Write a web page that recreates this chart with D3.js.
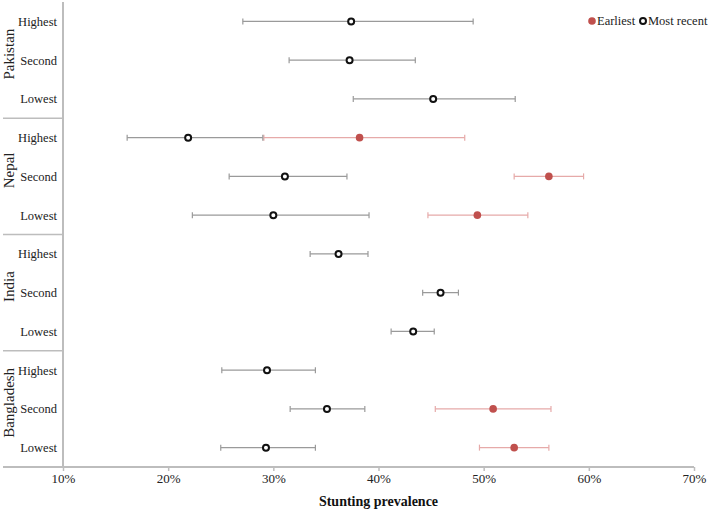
<!DOCTYPE html>
<html>
<head>
  <meta charset="utf-8">
  <script src="https://cdn.jsdelivr.net/npm/d3@7/dist/d3.min.js"></script>
  <style>
    body { margin: 0; background: #fff; }
  </style>
</head>
<body>
<script>

  // countries top to bottom, quintile rows within each
  var countries = ['Pakistan', 'Nepal', 'India', 'Bangladesh'];
  var quintiles = ['Highest', 'Second', 'Lowest'];

  // most recent survey: [estimate, lower, upper] (%)
  var recent = [
    [37.4, 27.1, 49.0], [37.25, 31.5, 43.5], [45.2, 37.6, 53.0],
    [21.9, 16.1, 29.0], [31.1, 25.8, 37.0], [30.0, 22.3, 39.1],
    [36.2, 33.5, 39.0], [45.9, 44.2, 47.6], [43.3, 41.2, 45.3],
    [29.4, 25.1, 34.0], [35.1, 31.6, 38.7], [29.3, 25.0, 34.0]
  ];

  // earliest survey, null where there is none
  var earliest = [
    null, null, null,
    [38.2, 29.1, 48.2], [56.2, 52.9, 59.5], [49.4, 44.7, 54.2],
    null, null, null,
    null, [50.9, 45.4, 56.4], [52.9, 49.6, 56.2]
  ];

  var xTicks = [10, 20, 30, 40, 50, 60, 70];

  var width = 709, height = 512;
  var plotL = 63, plotR = 694, plotT = 2, plotB = 467;
  var font = "'Liberation Serif'";

  var svg = d3.select('body').append('svg')
    .attr('width', width)
    .attr('height', height)
    .style('font-family', font);

  var rows = [];
  countries.forEach(function(c) {
    quintiles.forEach(function(q) { rows.push(c + '|' + q); });
  });

  var x = d3.scaleLinear().domain([10, 70]).range([plotL, plotR]);
  var y = d3.scaleBand().domain(rows).range([plotT, plotB]);
  var groupH = y.step() * quintiles.length;

  var axisColor = '#bdbdbd';

  // x axis
  var xAxis = svg.append('g')
    .attr('transform', 'translate(0,' + plotB + ')')
    .call(d3.axisBottom(x).tickValues(xTicks).tickSize(4).tickPadding(3).tickSizeOuter(0)
      .tickFormat(function(d) { return d + '%'; }));
  xAxis.attr('font-family', null);
  xAxis.select('.domain').remove();
  xAxis.selectAll('line').attr('stroke', axisColor).attr('stroke-width', 1.5);
  xAxis.selectAll('text')
    .style('font-family', font)
    .style('font-size', '13px')
    .attr('fill', '#222');
  xAxis.append('line')
    .attr('x1', 3).attr('x2', plotR)
    .attr('stroke', axisColor).attr('stroke-width', 2);

  // y axis line and group separators
  svg.append('line')
    .attr('x1', plotL).attr('x2', plotL).attr('y1', plotT).attr('y2', plotB)
    .attr('stroke', axisColor).attr('stroke-width', 2);

  svg.selectAll('.sep')
    .data(countries.slice(1))
    .enter().append('line')
    .attr('x1', 3).attr('x2', plotL)
    .attr('y1', function(d, i) { return plotT + groupH * (i + 1); })
    .attr('y2', function(d, i) { return plotT + groupH * (i + 1); })
    .attr('stroke', axisColor).attr('stroke-width', 1.5);

  // row labels
  svg.selectAll('.rowlab')
    .data(rows)
    .enter().append('text')
    .attr('x', 57)
    .attr('y', function(d) { return y(d) + y.bandwidth() / 2; })
    .attr('dy', '0.35em')
    .attr('text-anchor', 'end')
    .attr('fill', '#222')
    .style('font-family', font)
    .style('font-size', '12.5px')
    .text(function(d) { return d.split('|')[1]; });

  // country labels
  svg.selectAll('.country')
    .data(countries)
    .enter().append('text')
    .attr('transform', function(d, i) {
      return 'translate(9,' + (plotT + groupH * (i + 0.5) - 6) + ') rotate(-90)';
    })
    .attr('text-anchor', 'middle')
    .attr('dy', '0.33em')
    .attr('fill', '#222')
    .style('font-family', font)
    .style('font-size', '15px')
    .text(function(d) { return d; });

  // error bars
  function drawSeries(data, barColor, cls) {
    var items = [];
    data.forEach(function(d, i) { if (d) items.push({ row: rows[i], v: d }); });
    var g = svg.append('g').attr('class', cls);
    var cy = function(d) { return y(d.row) + y.bandwidth() / 2; };
    g.selectAll('.bar').data(items).enter().append('line')
      .attr('x1', function(d) { return x(d.v[1]); })
      .attr('x2', function(d) { return x(d.v[2]); })
      .attr('y1', cy).attr('y2', cy)
      .attr('stroke', barColor).attr('stroke-width', 1.3);
    [1, 2].forEach(function(k) {
      g.selectAll('.cap' + k).data(items).enter().append('line')
        .attr('x1', function(d) { return x(d.v[k]); })
        .attr('x2', function(d) { return x(d.v[k]); })
        .attr('y1', function(d) { return cy(d) - 3; })
        .attr('y2', function(d) { return cy(d) + 3; })
        .attr('stroke', barColor).attr('stroke-width', 1.2);
    });
    return { g: g, items: items, cy: cy };
  }

  var e = drawSeries(earliest, '#e6aaa9', 'earliest');
  var r = drawSeries(recent, '#9a9a9a', 'recent');

  e.g.selectAll('circle').data(e.items).enter().append('circle')
    .attr('cx', function(d) { return x(d.v[0]); })
    .attr('cy', e.cy)
    .attr('r', 3.8)
    .attr('fill', '#c0504d');

  r.g.selectAll('circle').data(r.items).enter().append('circle')
    .attr('cx', function(d) { return x(d.v[0]); })
    .attr('cy', r.cy)
    .attr('r', 3)
    .attr('fill', '#fff')
    .attr('stroke', '#111')
    .attr('stroke-width', 2);

  // legend
  var leg = svg.append('g').attr('transform', 'translate(0,21)');
  leg.append('circle').attr('cx', 592).attr('cy', 0).attr('r', 3.8).attr('fill', '#c0504d');
  leg.append('text').attr('x', 597).attr('dy', '0.35em').attr('fill', '#222')
    .style('font-family', font).style('font-size', '12.5px').text('Earliest');
  leg.append('circle').attr('cx', 643).attr('cy', 0).attr('r', 3)
    .attr('fill', '#fff').attr('stroke', '#111').attr('stroke-width', 2);
  leg.append('text').attr('x', 648).attr('dy', '0.35em').attr('fill', '#222')
    .style('font-family', font).style('font-size', '12.5px').text('Most recent');

  // axis title
  svg.append('text')
    .attr('x', (plotL + plotR) / 2).attr('y', 506)
    .attr('text-anchor', 'middle')
    .attr('fill', '#111')
    .style('font-family', font)
    .style('font-size', '14px')
    .style('font-weight', 'bold')
    .text('Stunting prevalence');

</script>
</body>
</html>
